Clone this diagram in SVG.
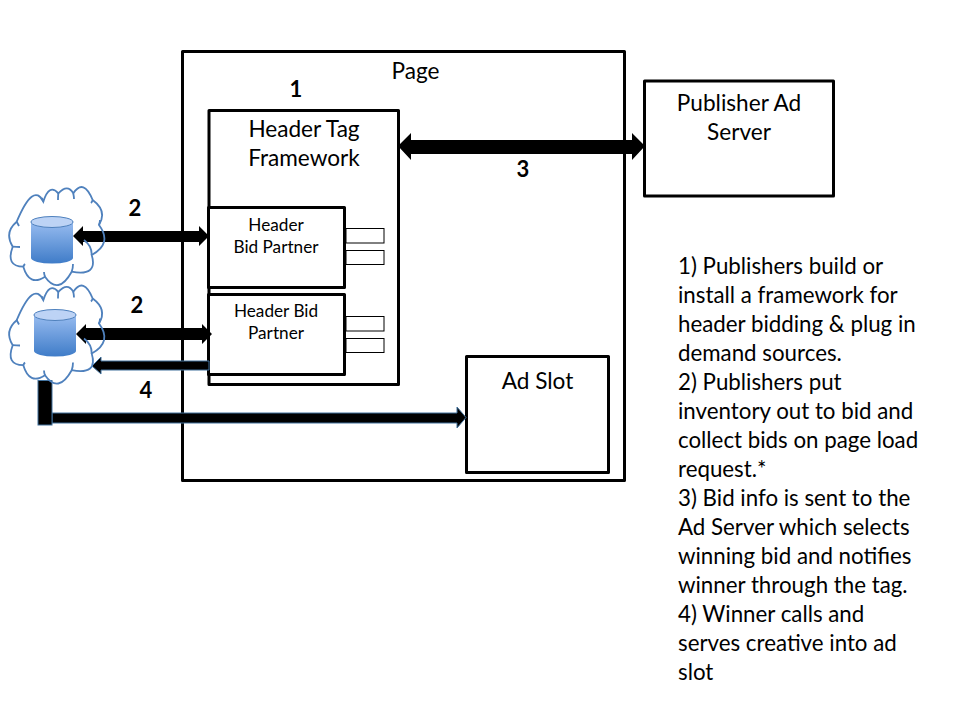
<svg xmlns="http://www.w3.org/2000/svg" width="960" height="720" viewBox="0 0 960 720">
<style>
text{font-family:"Lato","Open Sans","Liberation Sans",sans-serif;fill:#000}
.box{fill:#fff;stroke:#000;stroke-width:3;stroke-linejoin:round}
.slot{fill:#fff;stroke:#000;stroke-width:1}
.t{font-size:22.600px;text-anchor:middle}
.s{font-size:17.200px;text-anchor:middle}
.n{font-size:22px;font-weight:700;text-anchor:middle}
.d{font-size:22.300px}
.cl{fill:none;stroke:#4f81bd;stroke-width:1.8}
.cy{fill:url(#g)}
.top{fill:#bdd3f5;stroke:#4f81bd;stroke-width:1}
.bk{fill:#000}
.bl{fill:#000;stroke:#41719c;stroke-width:1}
</style>
<defs>
<linearGradient id="g" x1="0" y1="0" x2="0" y2="1"><stop offset="0" stop-color="#a3c4f5"/><stop offset="1" stop-color="#3f7cc8"/></linearGradient>
<g id="cloud">
<path class="cl" d="M16.700 221.700Q33.400 181.700 43.300 201.700Q49.200 183 58.300 193.300Q67.600 183.300 73.300 193.300Q83.600 178 92.700 200Q107.600 211 99 225Q112.700 243.400 91.700 255Q98.300 276.700 71.700 271.700Q58.300 295.800 45 276.700Q29.400 287 23.300 266.700Q5.400 266.700 12.700 246.700Q3.900 232.400 16.700 221.700Z"/>
<path class="cl" d="M84 240Q92 246 91.700 255M71.700 271.700Q73 268 73 264M45 276.700Q44 274 44 272M23.300 266.700Q24 265 25 264M12.700 246.700Q17 247 20 247M16.700 221.700Q18 224 19 226M43.300 201.700Q43 200 42 198M58.300 193.300Q58 197 58 200M73.300 193.300Q74 197 74 199M92.700 200Q92 202 91 203M99 225Q100 222 100 220"/>
</g>
<g id="cyl">
<path class="cy" d="M0 6A21 5.500 0 0 1 42 6V42A21 5.500 0 0 1 0 42Z"/>
<ellipse class="top" cx="21" cy="6" rx="21" ry="5.500"/>
</g>
</defs>
<g id="page"><rect class="box" x="182.500" y="51.500" width="442" height="429"/><text class="t" x="415.500" y="79">Page</text></g>
<g id="framework"><rect class="box" x="209" y="110.500" width="189.500" height="274"/><text class="t" x="304" y="137">Header Tag</text><text class="t" x="304" y="166">Framework</text></g>
<g id="partner1"><rect class="box" x="208.500" y="207.500" width="136" height="80"/><text class="s" x="276" y="231">Header</text><text class="s" x="276" y="253">Bid Partner</text><rect class="slot" x="346" y="228.500" width="38" height="14.500"/><rect class="slot" x="346" y="250.500" width="38" height="14"/></g>
<g id="partner2"><rect class="box" x="208.500" y="294.500" width="136" height="80"/><text class="s" x="276" y="317">Header Bid</text><text class="s" x="276" y="339">Partner</text><rect class="slot" x="346" y="316.500" width="38" height="14.500"/><rect class="slot" x="346" y="338.500" width="38" height="14"/></g>
<g id="adslot"><rect class="box" x="466.500" y="356.500" width="142" height="116"/><text class="t" x="537.500" y="389">Ad Slot</text></g>
<g id="adserver"><rect class="box" x="644.500" y="81" width="189" height="115"/><text class="t" x="739" y="111">Publisher Ad</text><text class="t" x="739" y="140">Server</text></g>
<g id="connectors">
<path class="bk" d="M73 236L83 226V231H199V226L209 236L199 246V242H83V246Z"/>
<path class="bk" d="M76 334L86 324V328H202V324L212 334L202 344V340H86V344Z"/>
<path class="bk" d="M398 146L411 133V140H632V133L645 146L632 160V154H411V160Z"/>
<path class="bl" d="M92 366L101 357V361H209V370H101V374Z"/>
<path class="bl" d="M52 413H457V407L466 417.500L457 428V423H52Z"/>
<rect class="bl" x="38" y="380.500" width="14" height="44.500"/>
</g>
<g id="source1"><use href="#cloud"/><use href="#cyl" x="31" y="216"/></g>
<g id="source2"><use href="#cloud" y="98.500"/><use href="#cyl" x="34" y="309"/></g>
<g id="numbers">
<text class="n" x="296" y="97">1</text><text class="n" x="135" y="216">2</text><text class="n" x="137" y="313">2</text><text class="n" x="523" y="177">3</text><text class="n" x="146" y="398">4</text>
</g>
<g id="notes">
<text class="d" x="678" y="274">1) Publishers build or</text>
<text class="d" x="678" y="303">install a framework for</text>
<text class="d" x="678" y="332">header bidding &amp; plug in</text>
<text class="d" x="678" y="361">demand sources.</text>
<text class="d" x="678" y="390">2) Publishers put</text>
<text class="d" x="678" y="419">inventory out to bid and</text>
<text class="d" x="678" y="448">collect bids on page load</text>
<text class="d" x="678" y="477">request.*</text>
<text class="d" x="678" y="506">3) Bid info is sent to the</text>
<text class="d" x="678" y="535">Ad Server which selects</text>
<text class="d" x="678" y="564">winning bid and notifies</text>
<text class="d" x="678" y="593">winner through the tag.</text>
<text class="d" x="678" y="622">4) Winner calls and</text>
<text class="d" x="678" y="651">serves creative into ad</text>
<text class="d" x="678" y="680">slot</text>
</g>
</svg>
